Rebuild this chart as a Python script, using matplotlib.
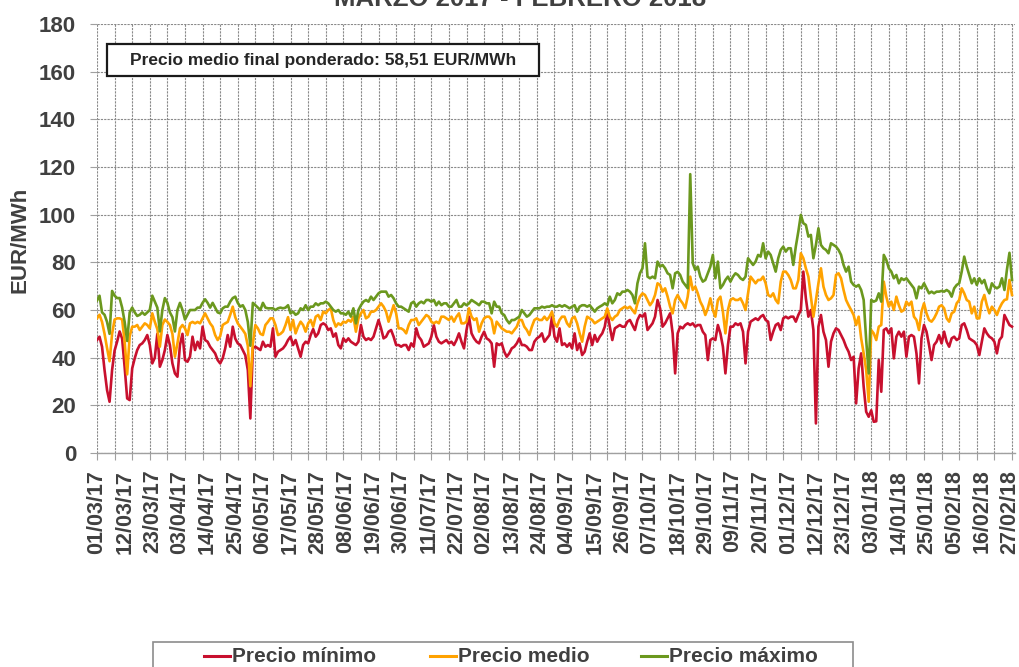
import numpy as np
import matplotlib
matplotlib.use("Agg")
import matplotlib.pyplot as plt
from matplotlib.patches import Rectangle
from matplotlib.lines import Line2D

plt.rcParams['font.family'] = ['Liberation Sans', 'DejaVu Sans']
plt.rcParams['font.weight'] = 'bold'

# ---------------- data (EUR/MWh, daily 01/03/2017 - 28/02/2018) ----------------
precio_maximo = [
    64, 66, 59, 58, 55, 50, 68,
    66, 65, 65, 61, 55, 47, 59,
    61, 59, 57.5, 58, 59, 58, 59,
    60, 66, 63.5, 61, 51, 60, 65,
    63, 59, 57, 51, 60, 63, 60,
    56, 58, 60, 60, 60, 61, 61,
    63, 64.5, 63, 61, 63, 61, 59,
    58.6, 60.7, 61.4, 61.4, 63.5, 65, 65.6,
    63, 61.4, 62, 60, 55, 45, 63,
    62, 61, 60, 63, 61, 60.7, 60.7,
    60.7, 60, 60.7, 61, 60.7, 61, 62,
    58.6, 59.3, 58, 58.6, 60.7, 60, 62,
    60, 61.4, 61.4, 62.8, 62, 62.8, 62.8,
    63.5, 62.8, 61.4, 60, 59.3, 60, 58.6,
    58.6, 58, 59.3, 57.2, 60.7, 54.4, 60,
    62, 63.5, 64.2, 63.5, 65.6, 64.2, 65.6,
    67, 67.7, 67.7, 67.7, 65.6, 66.3, 64.9,
    62.8, 61.4, 61.4, 60.7, 60, 59.3, 62.8,
    63.5, 61.4, 62.8, 63.5, 62.8, 64.2, 64.2,
    63.5, 64.2, 62, 63.5, 62, 62.8, 62.8,
    61.4, 61.4, 62.8, 64.2, 61.4, 61.4, 62.8,
    62, 62.8, 64.2, 63.5, 62.8, 62, 63.5,
    63.5, 62.8, 62.8, 58.6, 63.5, 61.4, 61.4,
    58.6, 57.9, 55.8, 54.4, 55.8, 55.8, 56.5,
    57.2, 60, 58.6, 57.2, 57.9, 59.3, 60.7,
    60.7, 60.7, 61.4, 61, 61.4, 61.4, 62,
    61.4, 61.4, 62, 61.4, 62, 61.4, 60.7,
    61.4, 62, 59.3, 61.4, 62, 62, 61.4,
    62, 60.7, 59.3, 60.7, 61.4, 62, 62.8,
    62, 65.6, 62.8, 64.2, 67, 66.3, 67.7,
    67.7, 68.4, 67.7, 66.3, 62.8, 71.2, 75.4,
    77.5, 88, 74, 73.3, 74, 73.3, 80.3,
    78.2, 78.9, 77.5, 75.4, 74.7, 69.1, 75.4,
    76, 74.7, 71.9, 70.5, 69.1, 117, 79.6,
    76.8, 78.2, 74, 71.9, 72.6, 75.4, 78.2,
    83.1, 73.3, 80.3, 69.1, 70.5, 72.6, 74,
    71.9, 74, 75.4, 74.7, 73.3, 72.6, 74,
    81.7, 80.3, 78.9, 80.3, 83.1, 82.4, 88,
    81.7, 84.5, 83.1, 79.6, 76.1, 81.7, 85.2,
    86.6, 84.5, 85.9, 85.9, 78.9, 86.6, 92.9,
    99.9, 96.4, 95.7, 90.8, 91.5, 81.7, 87.3,
    94.3, 87.3, 85.9, 85.2, 83.8, 88, 87.3,
    86.6, 85.2, 83.1, 78.9, 76.1, 78.2, 71.9,
    70.5, 69.8, 70.5, 68.4, 64.2, 47.4, 33.4,
    64.2, 63.5, 64, 67, 63.5, 83.1, 81,
    77.5, 76.1, 73.3, 74.7, 71.2, 73.3, 72.6,
    73.3, 71.9, 70.5, 69.1, 64.9, 69.8, 69.1,
    71.2, 69.1, 67, 67.7, 67, 67.7, 67.7,
    68, 67.7, 68.4, 67.7, 65.6, 69.1, 70.5,
    71.2, 76.1, 82.4, 78.2, 74.7, 71.2, 73.3,
    70.5, 73.3, 71.2, 72.6, 69.1, 67, 71.2,
    69.8, 69.1, 69.8, 73.3, 68.4, 77, 84,
    72.6,
]

precio_medio = [
    56.5, 58, 55, 50, 44, 38.5, 50,
    56, 56.5, 56.5, 56, 46.7, 33, 49,
    53, 53, 53.7, 51.6, 53, 54.4, 53.7,
    52.3, 58.6, 55, 52, 44.6, 53.7, 56,
    55, 53.7, 50, 40.4, 46, 52.3, 53.7,
    52.3, 49.5, 54.4, 55, 54.4, 55, 54.4,
    56.5, 58.6, 56.5, 54.4, 53, 49.5, 47.4,
    49, 53.7, 54.4, 55, 58, 61.4, 57,
    54.4, 53, 51.6, 50, 45, 28, 46,
    53.7, 52.3, 50, 49.5, 53.7, 55, 56.5,
    56.5, 53.7, 49.5, 50, 51, 53.7, 57,
    51.6, 55.8, 50.2, 53, 55.1, 53.7, 50.9,
    54.4, 55.8, 53, 57.2, 57.9, 55.8, 59.3,
    58.6, 60, 60.7, 55.8, 53, 54.4, 53.7,
    55.1, 54.7, 55.8, 55.1, 57.2, 50.9, 56.5,
    58.6, 60, 56.5, 57.2, 59.3, 59.3, 60,
    61.4, 62.8, 61.4, 59.3, 55.1, 58.6, 62,
    58.6, 52.3, 52.3, 51.6, 50.2, 53.7, 55.8,
    55.8, 56.5, 53.7, 55.1, 56.5, 57.9, 57.2,
    55.1, 54.4, 55.1, 54.4, 57.2, 57.2, 56.5,
    55.8, 57.2, 55.1, 57.2, 58.6, 54.4, 54.4,
    55.1, 60.7, 57.2, 55.8, 56.5, 50.9, 54.4,
    56.5, 57.2, 57.2, 55.8, 50.2, 55.1, 53.7,
    52.3, 51.6, 50.9, 50.9, 50.2, 51.6, 53,
    55.8, 55.8, 53, 51.6, 49.5, 53, 55.8,
    56.5, 55.8, 55.8, 57.2, 55.8, 57.2, 59.3,
    54.4, 53, 55.8, 57.2, 57.2, 54.4, 53,
    56.5, 57.2, 54.4, 50.2, 46.7, 53, 57.2,
    56.5, 55.8, 54.4, 55.1, 55.8, 56.5, 57.2,
    60.7, 57.2, 55.8, 57.2, 57.9, 60, 60.7,
    61.4, 60.7, 61.4, 60, 58.6, 62.8, 65.6,
    67, 66.3, 64.2, 62, 63.5, 66.3, 71.2,
    70.5, 67.7, 69.1, 65.6, 61.4, 58.6, 64.2,
    66.3, 64.2, 62.8, 60.7, 65.6, 74, 68.4,
    69.8, 67, 63.5, 61.4, 57.9, 60.7, 64.9,
    60, 57.2, 64.2, 65.6, 59.3, 50.2, 60,
    64.2, 64.9, 64.2, 64.2, 64.9, 62.8, 60,
    67, 74, 72.6, 71.2, 72.6, 72.6, 74,
    71.2, 66.3, 65.6, 67, 64.2, 62.8, 71.9,
    76.1, 76.1, 74.7, 72.6, 69.1, 69.1, 72.6,
    83.8, 81.7, 77.5, 74, 65.6, 57.2, 64.2,
    71.2, 77.5, 69.8, 66.3, 64.2, 64.9, 66.3,
    74.7, 75.4, 73.3, 68.4, 64.2, 62, 60,
    57.9, 53.7, 57.2, 48.1, 41.8, 34.8, 21.5,
    51.6, 50.2, 47.4, 53, 53.7, 71.9, 65.6,
    61.4, 63.5, 60, 65.6, 62, 59.3, 60,
    63.5, 62, 63.5, 57.2, 55.8, 51.6, 59.3,
    62.8, 58.6, 55.8, 55.1, 56.5, 58.6, 61.4,
    62, 60.7, 56.5, 55.1, 58.6, 59.3, 62.8,
    64.2, 69.1, 67, 64.2, 63.5, 58.6, 61.4,
    56.5, 56.5, 63.5, 66.3, 62, 58.6, 61.4,
    60, 57.9, 60.7, 62.8, 64.2, 64.5, 72.6,
    66.3,
]

precio_minimo = [
    47.4, 48.8, 44.6, 34.8, 26.4, 21.5, 34.8,
    43, 46.7, 51, 48, 36, 22.9, 22.2,
    35.5, 39.7, 43.2, 45.3, 46, 47.4, 49.5,
    45.3, 37.6, 40, 50, 36.2, 39, 43.2,
    49.5, 45.3, 37.6, 33.4, 32, 45.3, 50,
    39, 38.3, 40.4, 48.8, 43.2, 46.7, 43.9,
    53, 47.4, 46.7, 44.6, 43.2, 41.8, 39,
    37.6, 39.7, 43.9, 49.5, 44.6, 53, 48,
    46, 45.3, 43.2, 41, 34.8, 14.5, 44,
    44.6, 43.9, 43.2, 46.7, 44.6, 45.3, 44.6,
    52.3, 40.4, 42.5, 43.2, 43.9, 45.3, 47.4,
    48.8, 45.3, 47.4, 43.9, 40.4, 45.3, 46.7,
    46, 49.5, 52, 48.8, 50.2, 53.7, 54.4,
    53.7, 51.6, 52.3, 48.8, 50.2, 45.3, 43.9,
    48.1, 46.7, 48.1, 46.7, 46, 45.3, 46.7,
    53.7, 48.8, 47.4, 48.1, 47.4, 48.8, 52.3,
    55.8, 52.3, 48.1, 48.8, 50.9, 51.6, 48.8,
    45.3, 45.3, 44.6, 45.3, 45.3, 43.2, 46,
    44.6, 52.3, 48.8, 47.4, 44.6, 45.3, 46,
    48.8, 53.7, 48.8, 46.7, 46, 46.7, 47.4,
    46, 46.7, 45.3, 47.4, 50.2, 46.7, 43.9,
    51.6, 57.2, 50.2, 48.1, 46.7, 46, 48.8,
    50.9, 48.1, 47.4, 46, 36.2, 46, 45.3,
    46, 42.5, 40.4, 41.8, 43.9, 44.6, 46,
    48.1, 45.3, 45.3, 44.6, 43.2, 43.2, 46.7,
    48.1, 48.8, 50.2, 46.7, 48.1, 49.5, 57.2,
    48.8, 46.7, 52.3, 45.3, 46, 44.6, 46,
    43.9, 50.2, 43.2, 46, 41.1, 42.5, 46.7,
    50.2, 45.3, 49.5, 46.7, 48.8, 50.2, 53,
    59.3, 53, 47.4, 52.3, 53, 53.7, 53,
    53, 55.1, 55.8, 53.7, 51.6, 55.8, 57.9,
    57.2, 58.6, 51.6, 53, 54.4, 57.2, 64.2,
    60.7, 53, 54.4, 56.5, 58.6, 50.2, 33.4,
    50.2, 53, 52.3, 53.7, 54.4, 53.7, 54.4,
    53, 53.7, 53.7, 50.9, 49.5, 39, 47.4,
    48.1, 47.4, 53.7, 50.2, 44.6, 33.4, 45.3,
    53, 53, 54.4, 53.7, 54.4, 50.9, 37.6,
    50.9, 55.1, 55.8, 56.5, 55.8, 57.2, 57.9,
    55.8, 55.1, 47.4, 50.9, 53.7, 54.4, 51.6,
    56.5, 57.2, 56.5, 57.2, 57.2, 55.1, 57.9,
    60, 76.1, 64.9, 57.2, 60, 51.6, 12.4,
    53, 57.9, 50.9, 47.4, 36.2, 46.7, 50.2,
    52.3, 51.6, 49.5, 47.4, 44.6, 42.5, 39,
    40.4, 20.8, 35.5, 41.8, 27.8, 17.3, 15.2,
    17.9, 13.1, 13.3, 39, 25.7, 51.6, 52.3,
    50.2, 52.3, 39.7, 48.8, 50.9, 48.8, 50.9,
    40.4, 48.8, 49.5, 48.8, 41.8, 29.2, 48.1,
    53.7, 50.9, 45.3, 39, 45.3, 46.7, 49.5,
    46, 50.9, 46.7, 44.6, 48.1, 48.8, 47.4,
    48.1, 53.7, 54.4, 51.6, 48.1, 47.4, 46.7,
    45.3, 41.1, 46.7, 52.3, 50.2, 48.8, 48.1,
    46.7, 41.8, 47.4, 48.8, 57.9, 55.8, 53.7,
    53,
]

etiquetas_fecha = [
    "01/03/17", "12/03/17", "23/03/17", "03/04/17", "14/04/17", "25/04/17",
    "06/05/17", "17/05/17", "28/05/17", "08/06/17", "19/06/17", "30/06/17",
    "11/07/17", "22/07/17", "02/08/17", "13/08/17", "24/08/17", "04/09/17",
    "15/09/17", "26/09/17", "07/10/17", "18/10/17", "29/10/17", "09/11/17",
    "20/11/17", "01/12/17", "12/12/17", "23/12/17", "03/01/18", "14/01/18",
    "25/01/18", "05/02/18", "16/02/18", "27/02/18",
]
series_nombres = ["Precio mínimo", "Precio medio", "Precio máximo"]
titulo = "MARZO 2017 - FEBRERO 2018"
nota = "Precio medio final ponderado: 58,51 EUR/MWh"
eje_y = "EUR/MWh"

# ---------------- style ----------------
C_MIN = "#C8102E"
C_MED = "#FFA200"
C_MAX = "#6B981E"
TXT = "#404040"
W, H = 1020, 667

fig = plt.figure(figsize=(W / 100, H / 100), dpi=100)
fig.patch.set_facecolor("white")
ax = fig.add_axes([97 / W, (H - 453) / H, 918 / W, (453 - 24) / H])

dias = np.arange(len(precio_maximo))
ax.plot(dias, precio_minimo, color=C_MIN, lw=1.9, zorder=3)
ax.plot(dias, precio_medio, color=C_MED, lw=1.9, zorder=4)
ax.plot(dias, precio_maximo, color=C_MAX, lw=1.9, zorder=5)

ax.set_xlim(0, 365.2)
ax.set_ylim(0, 180)
ax.set_yticks(np.arange(0, 181, 20))
ax.xaxis.remove_overlapping_locs = False
ax.set_xticks(np.arange(0, len(dias), 7))
ax.set_xticks(np.arange(0, len(dias), 11)[:len(etiquetas_fecha)], minor=True)
ax.set_xticklabels(etiquetas_fecha, minor=True, rotation=90)
ax.tick_params(axis="x", which="major", length=5, color="#a0a0a0", labelbottom=False)
ax.tick_params(axis="x", which="minor", length=0, pad=12, labelsize=15.5,
               labelcolor=TXT)
ax.tick_params(axis="y", length=5, color="#a0a0a0", pad=10, labelsize=16,
               labelcolor=TXT)
for lab in ax.get_xticklabels(minor=True) + ax.get_yticklabels():
    lab.set_fontweight("bold")

ax.set_axisbelow(True)
ax.grid(which="major", axis="both", color="#8a8a8a", lw=0.8, ls=(0, (2, 1)))
for s in ("top", "right", "left"):
    ax.spines[s].set_visible(False)
ax.spines["bottom"].set_color("#a0a0a0")
ax.spines["bottom"].set_linewidth(1.0)

# title (partially cut off at top, as in the reference)
fig.text(520 / W, 1 - 6 / H, titulo, ha="center", va="baseline",
         fontsize=18.5, fontweight="bold", color=TXT)

# y label
fig.text(20 / W, 1 - 240 / H, eje_y, rotation=90, ha="center", va="center",
         fontsize=16, fontweight="bold", color=TXT)

# note box
fig.patches.append(Rectangle((107 / W, 1 - 76 / H), (539 - 107) / W, 32 / H,
                             transform=fig.transFigure, facecolor="white",
                             edgecolor="#1a1a1a", lw=1.6, zorder=6))
fig.text(323 / W, 1 - 60 / H, nota, ha="center", va="center",
         fontsize=12.5, fontweight="bold", color="#262626", zorder=7)

# legend (cut off at bottom)
fig.patches.append(Rectangle((153 / W, -0.05), (853 - 153) / W, 0.05 + (H - 642) / H,
                             transform=fig.transFigure, facecolor="white",
                             edgecolor="#8c8c8c", lw=1.2, zorder=6))
ly = 1 - 656 / H
for nombre, col, x0 in zip(series_nombres, [C_MIN, C_MED, C_MAX], [204, 430, 641]):
    fig.lines.append(Line2D([x0 / W, (x0 + 26) / W], [ly, ly], color=col, lw=2.2,
                            transform=fig.transFigure, zorder=7))
    fig.text((x0 + 28) / W, ly, nombre, ha="left", va="center", fontsize=15,
             fontweight="bold", color=TXT, zorder=7)

fig.savefig("out.png", dpi=100, facecolor="white")
